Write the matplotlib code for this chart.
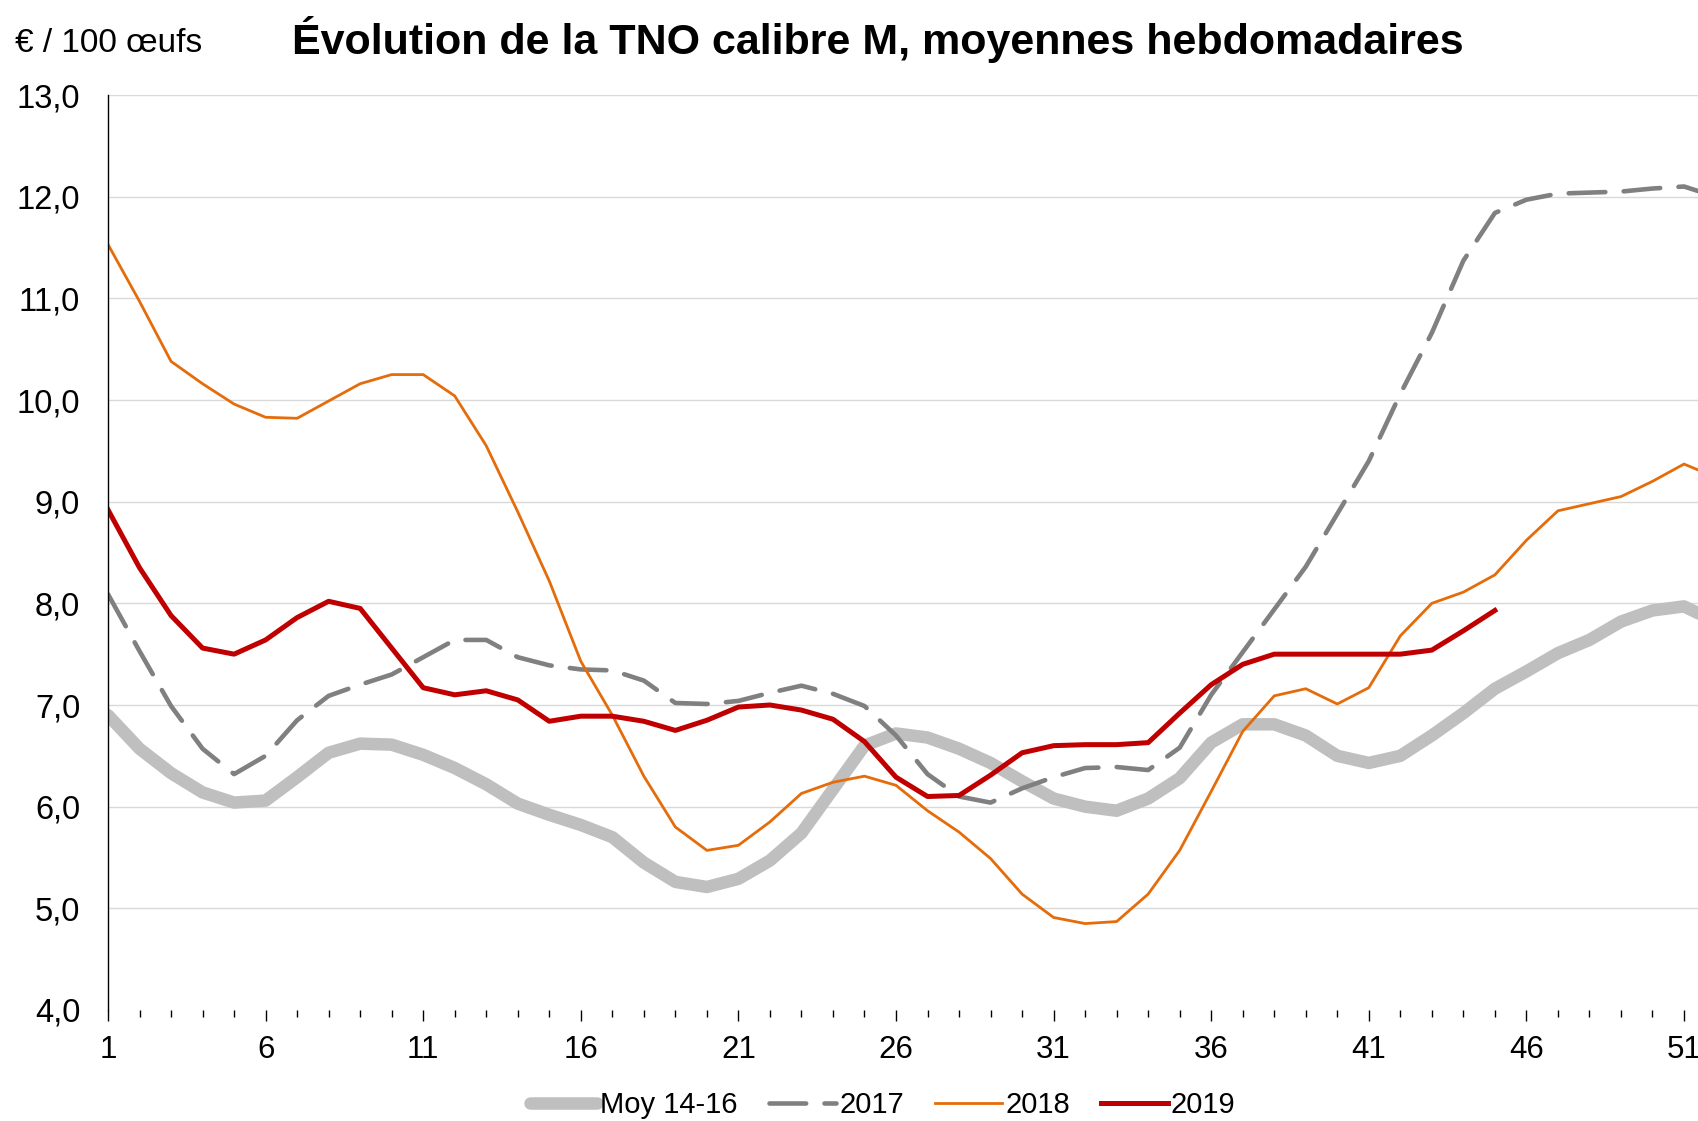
import matplotlib
matplotlib.use("Agg")
import matplotlib.pyplot as plt
from matplotlib.ticker import FuncFormatter, MultipleLocator

plt.rcParams['font.family'] = ['Liberation Sans', 'DejaVu Sans']

# weekly averages, euro per 100 eggs
weeks = list(range(1, 53))
moy_14_16 = [6.90, 6.57, 6.33, 6.14, 6.04, 6.06, 6.29, 6.53, 6.62, 6.61,
             6.51, 6.38, 6.22, 6.03, 5.92, 5.82, 5.70, 5.45, 5.26, 5.21,
             5.29, 5.47, 5.74, 6.17, 6.60, 6.72, 6.68, 6.57, 6.43, 6.25,
             6.08, 6.00, 5.96, 6.08, 6.28, 6.63, 6.81, 6.81, 6.70, 6.50,
             6.43, 6.50, 6.70, 6.92, 7.16, 7.33, 7.51, 7.64, 7.82, 7.93,
             7.97, 7.82]
y2017 = [8.09, 7.53, 6.99, 6.57, 6.32, 6.50, 6.85, 7.09, 7.20, 7.30,
         7.47, 7.64, 7.64, 7.47, 7.39, 7.35, 7.34, 7.24, 7.02, 7.01,
         7.04, 7.12, 7.19, 7.11, 6.99, 6.70, 6.32, 6.10, 6.04, 6.18,
         6.29, 6.38, 6.39, 6.36, 6.58, 7.10, 7.52, 7.94, 8.36, 8.88,
         9.40, 10.06, 10.66, 11.37, 11.84, 11.97, 12.03, 12.04, 12.05, 12.08,
         12.10, 12.00]
y2018 = [11.53, 10.97, 10.38, 10.16, 9.96, 9.83, 9.82, 9.99, 10.16, 10.25,
         10.25, 10.04, 9.55, 8.90, 8.22, 7.43, 6.90, 6.30, 5.80, 5.57,
         5.62, 5.85, 6.13, 6.24, 6.30, 6.21, 5.96, 5.75, 5.49, 5.14,
         4.91, 4.85, 4.87, 5.14, 5.57, 6.15, 6.74, 7.09, 7.16, 7.01,
         7.17, 7.68, 8.00, 8.11, 8.28, 8.62, 8.91, 8.98, 9.05, 9.20,
         9.37, 9.24]
y2019 = [8.92, 8.35, 7.88, 7.56, 7.50, 7.64, 7.86, 8.02, 7.95, 7.56,
         7.17, 7.10, 7.14, 7.05, 6.84, 6.89, 6.89, 6.84, 6.75, 6.85,
         6.98, 7.00, 6.95, 6.86, 6.64, 6.29, 6.10, 6.11, 6.31, 6.53,
         6.60, 6.61, 6.61, 6.63, 6.92, 7.20, 7.40, 7.50, 7.50, 7.50,
         7.50, 7.50, 7.54, 7.73, 7.93]

W, H = 1698, 1121
fig = plt.figure(figsize=(W / 100, H / 100), dpi=100)
# axes runs past the right edge, like the cropped original
ax = fig.add_axes([108 / W, 1 - 1010 / H, 51 * 31.52 / W, 915 / H])

ax.plot(weeks, moy_14_16, color='#BFBFBF', lw=9, solid_capstyle='round',
        solid_joinstyle='round', label='Moy 14-16')
ax.plot(weeks, y2017, color='#808080', lw=3.3, dashes=(8, 4),
        dash_capstyle='round', label='2017')
ax.plot(weeks, y2018, color='#E46C0A', lw=2.0, label='2018')
ax.plot(weeks[:len(y2019)], y2019, color='#C00000', lw=3.6, label='2019')

ax.set_xlim(1, 52)
ax.set_ylim(4, 13)
ax.set_xticks(range(1, 53, 5))
ax.xaxis.set_minor_locator(MultipleLocator(1))
ax.yaxis.set_major_locator(MultipleLocator(1))
ax.yaxis.set_major_formatter(FuncFormatter(lambda v, p: f"{v:.1f}".replace('.', ',')))

for v in range(5, 14):
    ax.axhline(v, color='#D9D9D9', lw=1.0, zorder=0)

for s in ['top', 'right', 'bottom']:
    ax.spines[s].set_visible(False)
ax.spines['left'].set_linewidth(1.0)

ax.tick_params(axis='y', length=0, pad=20, labelsize=23.5)
ax.tick_params(axis='x', which='major', direction='out', length=8, width=1.0,
               pad=10, labelsize=22.5)
ax.tick_params(axis='x', which='minor', direction='out', length=5, width=1.0)

fig.text(878 / W, 1 - 54 / H, "Évolution de la TNO calibre M, moyennes hebdomadaires",
         ha='center', va='baseline', fontsize=31, fontweight='bold')
fig.text(15 / W, 1 - 52 / H, "€ / 100 œufs", ha='left', va='baseline', fontsize=24)

fig.legend(loc='center', bbox_to_anchor=(883 / W, 1 - 1105 / H), ncol=4,
           frameon=False, fontsize=21, handlelength=2.3, handletextpad=0.1,
           columnspacing=1.07)

fig.savefig('out.png', dpi=100)
